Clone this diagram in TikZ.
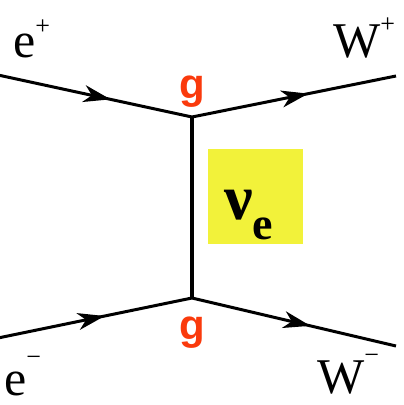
\documentclass[tikz,border=0pt]{standalone}
\usepackage{fontspec}
\setmainfont{Liberation Serif}
\newfontfamily\labelsans{Liberation Sans}
\usetikzlibrary{arrows.meta, decorations.markings}
\definecolor{couplingred}{RGB}{250,58,12}
\definecolor{boxyellow}{RGB}{242,242,58}
\tikzset{
  fermion/.style={line width=3pt, postaction={decorate}, decoration={markings,
      mark=at position #1 with {\arrow{Stealth[length=27pt, width=17pt, inset=8pt]}}}},
  fermion/.default=0.55,
  particle/.style={anchor=base west, inner sep=0pt, font=\fontsize{50}{60}\selectfont},
  coupling/.style={text=couplingred, inner sep=0pt, font=\labelsans\bfseries\fontsize{42}{50}\selectfont}
}
\begin{document}
\begin{tikzpicture}[x=1pt, y=-1pt]
  \useasboundingbox (0,0) rectangle (404,405);
  % 1. vertices and external ends
  \coordinate (vtop) at (192,117);
  \coordinate (vbot) at (192,298);
  \coordinate (eplus) at (-2,75);
  \coordinate (wplus) at (396,76);
  \coordinate (eminus) at (-2,338);
  \coordinate (wminus) at (396,346);

  % 2. propagator (neutrino exchange)
  \draw[line width=3.2pt] (vtop) -- (vbot);

  % 3. external lines with arrows
  \draw[fermion=0.58] (eplus) -- (vtop);
  \draw[fermion=0.57] (vtop) -- (wplus);
  \draw[fermion=0.55] (eminus) -- (vbot);
  \draw[fermion=0.58] (vbot) -- (wminus);

  % 4. particle labels
  \node[particle] (lbleplus) at (13,57) {e\raisebox{0.45em}{\fontsize{26}{30}\selectfont +}};
  \node[particle] (lblwplus) at (333,57) {W\raisebox{0.5em}{\fontsize{26}{30}\selectfont +}};
  \node[particle] (lbleminus) at (4,395) {e\raisebox{0.6em}{\fontsize{26}{30}\selectfont −}};
  \node[particle] (lblwminus) at (317,393) {W\raisebox{0.6em}{\fontsize{26}{30}\selectfont −}};

  % 5. coupling labels
  \node[coupling] (gtop) at (192,92) {g};
  \node[coupling] (gbot) at (192,333) {g};

  % 6. highlighted neutrino label
  \fill[boxyellow] (208,149) rectangle (303,244);
  \node[anchor=base west, inner sep=0pt, font=\bfseries\fontsize{64}{70}\selectfont] (nulabel) at (224,219)
    {ν\raisebox{-0.32em}{\fontsize{46}{50}\selectfont e}};
\end{tikzpicture}
\end{document}
